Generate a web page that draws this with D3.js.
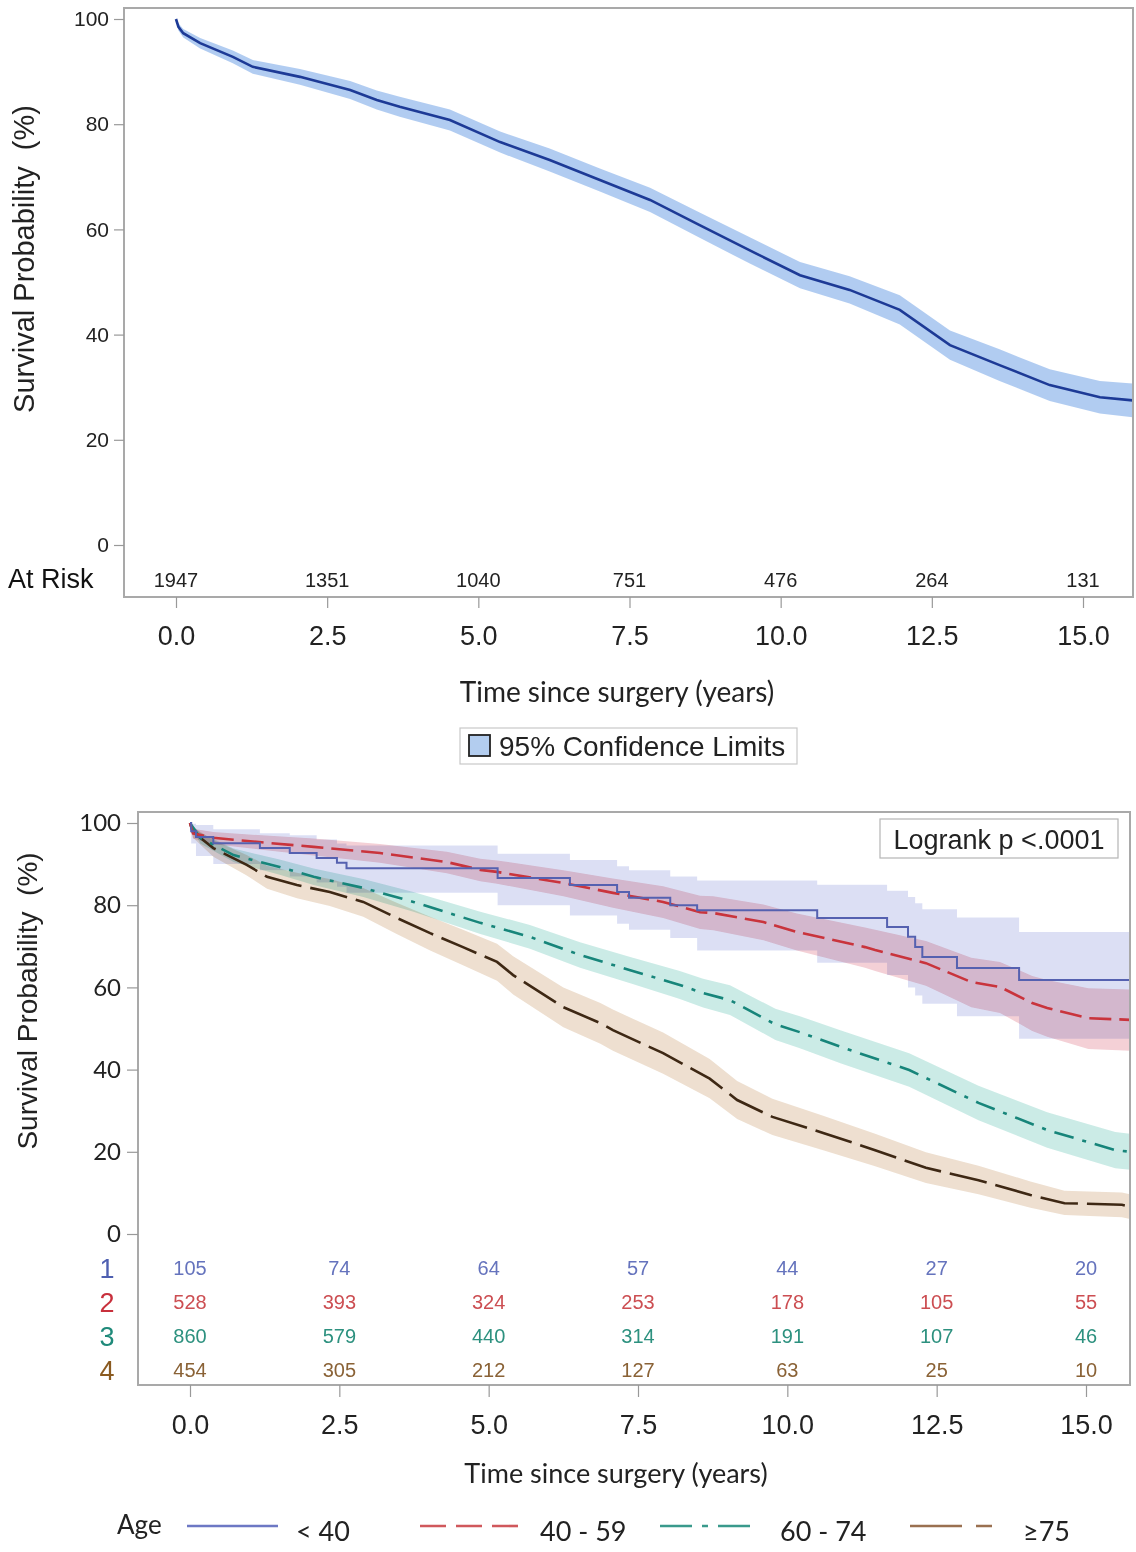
<!DOCTYPE html>
<html><head><meta charset="utf-8">
<script src="https://cdn.jsdelivr.net/npm/d3@7"></script>
<style>
html,body{margin:0;padding:0;background:#fff;}
svg{display:block;}
text{white-space:pre;}
</style></head>
<body>
<svg id="chart" width="1136" height="1552"></svg>
<script>
// ---------------- DATA ----------------
const xTicks = [0, 2.5, 5, 7.5, 10, 12.5, 15];
const xTickLabels = ["0.0", "2.5", "5.0", "7.5", "10.0", "12.5", "15.0"];
const yTicks = [0, 20, 40, 60, 80, 100];

// Overall survival (top panel)
const allTime  = [0, 0.04, 0.12, 0.4, 0.94, 1.27, 2.05, 2.88, 3.32, 3.7, 4.53, 5.36, 6.18, 7.01, 7.84, 8.66, 9.49, 10.32, 11.14, 11.97, 12.8, 13.62, 14.45, 15.28, 15.82];
const allSurv  = [100, 98.5, 97.3, 95.4, 92.8, 90.9, 89.0, 86.5, 84.6, 83.3, 80.8, 76.6, 73.2, 69.4, 65.6, 60.8, 56.0, 51.3, 48.5, 44.7, 38.0, 34.2, 30.4, 28.1, 27.5];
const allLower = [100, 97.8, 96.5, 94.4, 91.6, 89.6, 87.5, 84.8, 82.8, 81.4, 78.8, 74.6, 71.0, 67.2, 63.3, 58.4, 53.5, 48.8, 45.9, 41.9, 35.2, 31.2, 27.4, 25.0, 24.3];
const allUpper = [100, 99.2, 98.1, 96.4, 94.0, 92.2, 90.5, 88.2, 86.4, 85.2, 82.8, 78.6, 75.4, 71.6, 67.9, 63.2, 58.5, 53.8, 51.1, 47.5, 40.8, 37.2, 33.4, 31.2, 30.7];
const atRiskAll = [1947, 1351, 1040, 751, 476, 264, 131];

// Age groups (bottom panel)
const groupNames = ["< 40", "40 - 59", "60 - 74", "\u226575"];
const groupCodes = ["1", "2", "3", "4"];

const g1Time  = [0, 0.02, 0.1, 0.39, 1.17, 1.67, 2.12, 2.46, 2.62, 5.15, 6.36, 7.15, 7.35, 8.04, 8.49, 10.5, 11.67, 12.02, 12.14, 12.26, 12.84, 13.88, 15.75];
const g1Surv  = [100, 98, 96.6, 95.1, 93.9, 92.7, 91.5, 90.3, 89.0, 86.6, 84.9, 83.2, 81.8, 80.0, 78.8, 76.9, 74.7, 72.3, 69.8, 67.4, 64.7, 61.8, 61.8];
const g1Lower = [100, 95, 92, 90, 88.5, 87, 85.5, 84.5, 83, 80, 77.5, 75.5, 74, 72, 69, 66, 63, 60, 58, 56, 53, 47.5, 47.5];
const g1Upper = [100, 99.8, 99.5, 98.5, 97.5, 97, 96, 95, 94.5, 92.5, 91, 89.5, 88.5, 87, 86, 85, 83.5, 82, 80.5, 79, 77, 73.5, 73.5];

const g2Time  = [0, 0.05, 0.39, 1.2, 2.07, 3.18, 4.3, 4.86, 5.14, 6.25, 7.08, 7.92, 8.54, 8.76, 9.6, 10.16, 11.3, 11.47, 12.32, 13.08, 13.56, 14.1, 14.35, 15.04, 15.75];
const g2Surv  = [100, 97.5, 96.4, 95.3, 94.2, 92.7, 90.5, 88.6, 88.1, 85.4, 83.0, 80.8, 78.3, 78.1, 75.9, 73.5, 69.8, 69.1, 65.9, 61.3, 60.1, 56.2, 55.0, 52.5, 52.1];
const g2Lower = [100, 96.2, 94.8, 93.5, 92.1, 90.3, 87.8, 85.8, 85.2, 82.2, 79.4, 76.9, 74.2, 73.9, 71.5, 69.0, 64.8, 64.0, 60.4, 55.2, 53.8, 49.4, 48.0, 45.0, 44.6];
const g2Upper = [100, 98.6, 97.8, 97.0, 96.2, 94.9, 93.0, 91.3, 90.9, 88.5, 86.5, 84.6, 82.3, 82.2, 80.2, 78.0, 74.6, 74.0, 71.3, 67.2, 66.2, 62.8, 61.8, 59.8, 59.5];

const g3Time  = [0, 0.17, 0.73, 1.5, 2.07, 2.9, 3.74, 4.86, 5.69, 6.53, 7.37, 8.2, 8.59, 9.04, 9.8, 10.21, 10.9, 12.04, 13.2, 14.35, 15.49, 15.75];
const g3Surv  = [100, 96.4, 92.2, 89.3, 86.9, 84.2, 80.8, 75.7, 72.3, 67.9, 64.2, 60.6, 58.6, 56.9, 51.0, 49.1, 45.5, 39.9, 31.9, 25.3, 20.4, 20.0];
const g3Lower = [100, 95.0, 90.5, 87.4, 84.9, 82.0, 78.4, 73.0, 69.4, 64.8, 61.0, 57.2, 55.1, 53.3, 47.2, 45.2, 41.5, 35.8, 27.7, 21.0, 16.0, 15.6];
const g3Upper = [100, 97.6, 93.8, 91.1, 88.9, 86.4, 83.2, 78.4, 75.2, 71.0, 67.4, 64.0, 62.1, 60.5, 54.8, 53.0, 49.5, 44.0, 36.1, 29.6, 24.8, 24.4];

const g4Time  = [0, 0.05, 0.39, 0.95, 1.29, 1.79, 2.34, 2.9, 3.46, 4.02, 4.57, 5.14, 5.41, 6.25, 6.87, 7.08, 7.92, 8.7, 9.16, 9.75, 10.6, 11.47, 12.32, 13.2, 14.07, 14.64, 15.6, 15.75];
const g4Surv  = [100, 97.8, 93.9, 89.8, 86.9, 84.9, 83.2, 80.8, 76.9, 73.2, 69.8, 66.2, 63.0, 55.2, 51.3, 49.6, 44.0, 37.8, 32.6, 28.5, 24.6, 20.4, 16.1, 13.1, 9.5, 7.5, 7.1, 6.6];
const g4Lower = [100, 96.4, 91.8, 87.2, 84.0, 81.7, 79.8, 77.2, 73.0, 69.0, 65.4, 61.6, 58.3, 50.3, 46.3, 44.6, 39.0, 33.0, 28.0, 24.1, 20.4, 16.5, 12.4, 9.7, 6.4, 4.6, 4.1, 3.6];
const g4Upper = [100, 99.0, 95.8, 92.2, 89.6, 87.9, 86.4, 84.2, 80.6, 77.2, 74.0, 70.6, 67.6, 60.0, 56.2, 54.6, 49.0, 42.6, 37.2, 32.9, 28.8, 24.4, 19.9, 16.6, 12.8, 10.5, 10.1, 9.6];

const atRisk1 = [105, 74, 64, 57, 44, 27, 20];
const atRisk2 = [528, 393, 324, 253, 178, 105, 55];
const atRisk3 = [860, 579, 440, 314, 191, 107, 46];
const atRisk4 = [454, 305, 212, 127, 63, 25, 10];

// ---------------- STYLE ----------------
const lineColors  = ["#5561b0", "#c9343c", "#17857a", "#3e2814"];
const bandColors  = ["#d3d7f2", "#efbcc4", "#c2e8e2", "#ecdccb"];
const bandOpacity = [0.8, 0.7, 0.85, 0.9];
const riskColors  = ["#6573bd", "#cc4e52", "#2d917f", "#8a6236"];
const codeColors  = ["#4e5fb0", "#c8303c", "#1f8a7a", "#8a5a20"];
const legendLineColors = ["#6d78c4", "#d0585c", "#3a9a8c", "#9a7050"];
const dashes = [null, "22,8", "20,9,4,9", "38,9"];
const legendDashes = [null, "26,10", "32,10,6,10", "52,14,16,14"];
const sans = "'Liberation Sans', Arial, sans-serif";
const cal  = "Lato, 'Open Sans', sans-serif";
const frameColor = "#a9a9a9";

const svg = d3.select("#chart");
const defs = svg.append("defs");

function zip(t, v) { return t.map((d, i) => ({t: d, v: v[i]})); }
function zip3(t, lo, hi) { return t.map((d, i) => ({t: d, lo: lo[i], hi: hi[i]})); }

// ================= TOP PANEL =================
const T = {left: 124, right: 1133, top: 8, bottom: 597};
const x1 = d3.scaleLinear().domain([0, 15]).range([176, 1083]);
const y1 = d3.scaleLinear().domain([0, 100]).range([545, 19]);

defs.append("clipPath").attr("id", "clipTop").append("rect")
  .attr("x", T.left).attr("y", T.top).attr("width", T.right - T.left).attr("height", T.bottom - T.top);

const gTop = svg.append("g");
gTop.append("g").attr("clip-path", "url(#clipTop)").append("path")
  .datum(zip3(allTime, allLower, allUpper))
  .attr("fill", "#a9c6ef").attr("opacity", 0.9)
  .attr("d", d3.area().x(d => x1(d.t)).y0(d => y1(d.lo)).y1(d => y1(d.hi)));
gTop.append("g").attr("clip-path", "url(#clipTop)").append("path")
  .datum(zip(allTime, allSurv))
  .attr("fill", "none").attr("stroke", "#1d3a96").attr("stroke-width", 2.6)
  .attr("d", d3.line().x(d => x1(d.t)).y(d => y1(d.v)));

gTop.append("rect").attr("x", T.left).attr("y", T.top)
  .attr("width", T.right - T.left).attr("height", T.bottom - T.top)
  .attr("fill", "none").attr("stroke", frameColor).attr("stroke-width", 2);

// y axis
const yAx1 = gTop.append("g").attr("transform", `translate(${T.left},0)`)
  .call(d3.axisLeft(y1).tickValues(yTicks).tickSize(10).tickPadding(5));
yAx1.select(".domain").remove();
yAx1.selectAll("line").attr("stroke", "#999").attr("stroke-width", 1.2);
yAx1.selectAll("text").attr("font-family", sans).attr("font-size", 21).attr("fill", "#222");

// x axis
const xAx1 = gTop.append("g").attr("transform", `translate(0,${T.bottom})`)
  .call(d3.axisBottom(x1).tickValues(xTicks).tickFormat((d, i) => xTickLabels[i]).tickSize(11).tickPadding(18));
xAx1.select(".domain").remove();
xAx1.selectAll("line").attr("stroke", "#999").attr("stroke-width", 1.2);
xAx1.selectAll("text").attr("font-family", sans).attr("font-size", 27).attr("fill", "#222");

// at risk
gTop.append("text").attr("x", 8).attr("y", 588).text("At Risk")
  .attr("font-family", sans).attr("font-size", 27).attr("fill", "#111");
gTop.selectAll(".ar").data(atRiskAll).enter().append("text")
  .attr("x", (d, i) => x1(xTicks[i])).attr("y", 587).attr("text-anchor", "middle")
  .attr("font-family", sans).attr("font-size", 20).attr("fill", "#222").text(d => d);

// titles
gTop.append("text").attr("transform", "translate(34,259) rotate(-90)").attr("text-anchor", "middle")
  .attr("font-family", sans).attr("font-size", 29).attr("fill", "#222").text("Survival Probability  (%)");
gTop.append("text").attr("x", 617).attr("y", 702).attr("text-anchor", "middle")
  .attr("font-family", cal).attr("font-size", 28).attr("fill", "#222").text("Time since surgery (years)");

// legend
gTop.append("rect").attr("x", 460).attr("y", 728).attr("width", 337).attr("height", 36)
  .attr("fill", "#fff").attr("stroke", "#c8c8c8").attr("stroke-width", 1.2);
gTop.append("rect").attr("x", 469).attr("y", 735).attr("width", 21).attr("height", 21)
  .attr("fill", "#b3cdef").attr("stroke", "#222").attr("stroke-width", 1.8);
gTop.append("text").attr("x", 499).attr("y", 756)
  .attr("font-family", sans).attr("font-size", 28).attr("fill", "#222").text("95% Confidence Limits");

// ================= BOTTOM PANEL =================
const B = {left: 138, right: 1130, top: 812, bottom: 1385};
const x2 = d3.scaleLinear().domain([0, 15]).range([190, 1086]);
const y2 = d3.scaleLinear().domain([0, 100]).range([1234, 823]);

defs.append("clipPath").attr("id", "clipBot").append("rect")
  .attr("x", B.left).attr("y", B.top).attr("width", B.right - B.left).attr("height", B.bottom - B.top);

const groupData = [
  {t: g1Time, s: g1Surv, lo: g1Lower, hi: g1Upper, step: true},
  {t: g2Time, s: g2Surv, lo: g2Lower, hi: g2Upper, step: false},
  {t: g3Time, s: g3Surv, lo: g3Lower, hi: g3Upper, step: false},
  {t: g4Time, s: g4Surv, lo: g4Lower, hi: g4Upper, step: false}
];
const atRiskGroups = [atRisk1, atRisk2, atRisk3, atRisk4];

const gBot = svg.append("g");
const plotB = gBot.append("g").attr("clip-path", "url(#clipBot)");
groupData.forEach((g, i) => {
  plotB.append("path").datum(zip3(g.t, g.lo, g.hi))
    .attr("fill", bandColors[i]).attr("opacity", bandOpacity[i])
    .style("mix-blend-mode", "multiply")
    .attr("d", d3.area().curve(g.step ? d3.curveStepAfter : d3.curveLinear)
      .x(d => x2(d.t)).y0(d => y2(d.lo)).y1(d => y2(d.hi)));
});
[3, 2, 1, 0].forEach(i => {
  const g = groupData[i];
  const p = plotB.append("path").datum(zip(g.t, g.s))
    .attr("fill", "none").attr("stroke", lineColors[i]).attr("stroke-width", i === 0 ? 2 : 2.6)
    .attr("d", d3.line().curve(g.step ? d3.curveStepAfter : d3.curveLinear)
      .x(d => x2(d.t)).y(d => y2(d.v)));
  if (dashes[i]) p.attr("stroke-dasharray", dashes[i]);
});

gBot.append("rect").attr("x", B.left).attr("y", B.top)
  .attr("width", B.right - B.left).attr("height", B.bottom - B.top)
  .attr("fill", "none").attr("stroke", frameColor).attr("stroke-width", 2);

const yAx2 = gBot.append("g").attr("transform", `translate(${B.left},0)`)
  .call(d3.axisLeft(y2).tickValues(yTicks).tickSize(11).tickPadding(6));
yAx2.select(".domain").remove();
yAx2.selectAll("line").attr("stroke", "#999").attr("stroke-width", 1.2);
yAx2.selectAll("text").attr("font-family", cal).attr("font-size", 24).attr("fill", "#222");

const xAx2 = gBot.append("g").attr("transform", `translate(0,${B.bottom})`)
  .call(d3.axisBottom(x2).tickValues(xTicks).tickFormat((d, i) => xTickLabels[i]).tickSize(12).tickPadding(18));
xAx2.select(".domain").remove();
xAx2.selectAll("line").attr("stroke", "#999").attr("stroke-width", 1.2);
xAx2.selectAll("text").attr("font-family", sans).attr("font-size", 27).attr("fill", "#222");

// at-risk table
const riskY = [1268, 1302, 1336, 1370];
groupCodes.forEach((c, i) => {
  gBot.append("text").attr("x", 107).attr("y", riskY[i] + 10).attr("text-anchor", "middle")
    .attr("font-family", sans).attr("font-size", 27).attr("fill", codeColors[i]).text(c);
  gBot.selectAll(".r" + i).data(atRiskGroups[i]).enter().append("text")
    .attr("x", (d, j) => x2(xTicks[j])).attr("y", riskY[i] + 7).attr("text-anchor", "middle")
    .attr("font-family", sans).attr("font-size", 20).attr("fill", riskColors[i]).text(d => d);
});

// titles
gBot.append("text").attr("transform", "translate(37,1001) rotate(-90)").attr("text-anchor", "middle")
  .attr("font-family", sans).attr("font-size", 28).attr("fill", "#222").text("Survival Probability  (%)");
gBot.append("text").attr("x", 616).attr("y", 1483).attr("text-anchor", "middle")
  .attr("font-family", cal).attr("font-size", 27).attr("fill", "#222").text("Time since surgery (years)");

// logrank box
gBot.append("rect").attr("x", 880).attr("y", 819).attr("width", 238).attr("height", 39)
  .attr("fill", "#fff").attr("stroke", "#b5b5b5").attr("stroke-width", 1.2);
gBot.append("text").attr("x", 999).attr("y", 849).attr("text-anchor", "middle")
  .attr("font-family", sans).attr("font-size", 27).attr("fill", "#222").text("Logrank p <.0001");

// legend
const legY = 1526;
gBot.append("text").attr("x", 117).attr("y", legY + 8)
  .attr("font-family", cal).attr("font-size", 26).attr("fill", "#222").text("Age");
const legLineX = [[187, 278], [420, 522], [660, 757], [910, 1002]];
const legTextX = [296, 540, 780, 1023];
groupNames.forEach((n, i) => {
  const l = gBot.append("line").attr("x1", legLineX[i][0]).attr("x2", legLineX[i][1])
    .attr("y1", legY).attr("y2", legY)
    .attr("stroke", legendLineColors[i]).attr("stroke-width", 2.6);
  if (legendDashes[i]) l.attr("stroke-dasharray", legendDashes[i]);
  gBot.append("text").attr("x", legTextX[i]).attr("y", legY + 15)
    .attr("font-family", cal).attr("font-size", 27).attr("fill", "#222").text(n);
});
</script>
</body></html>
